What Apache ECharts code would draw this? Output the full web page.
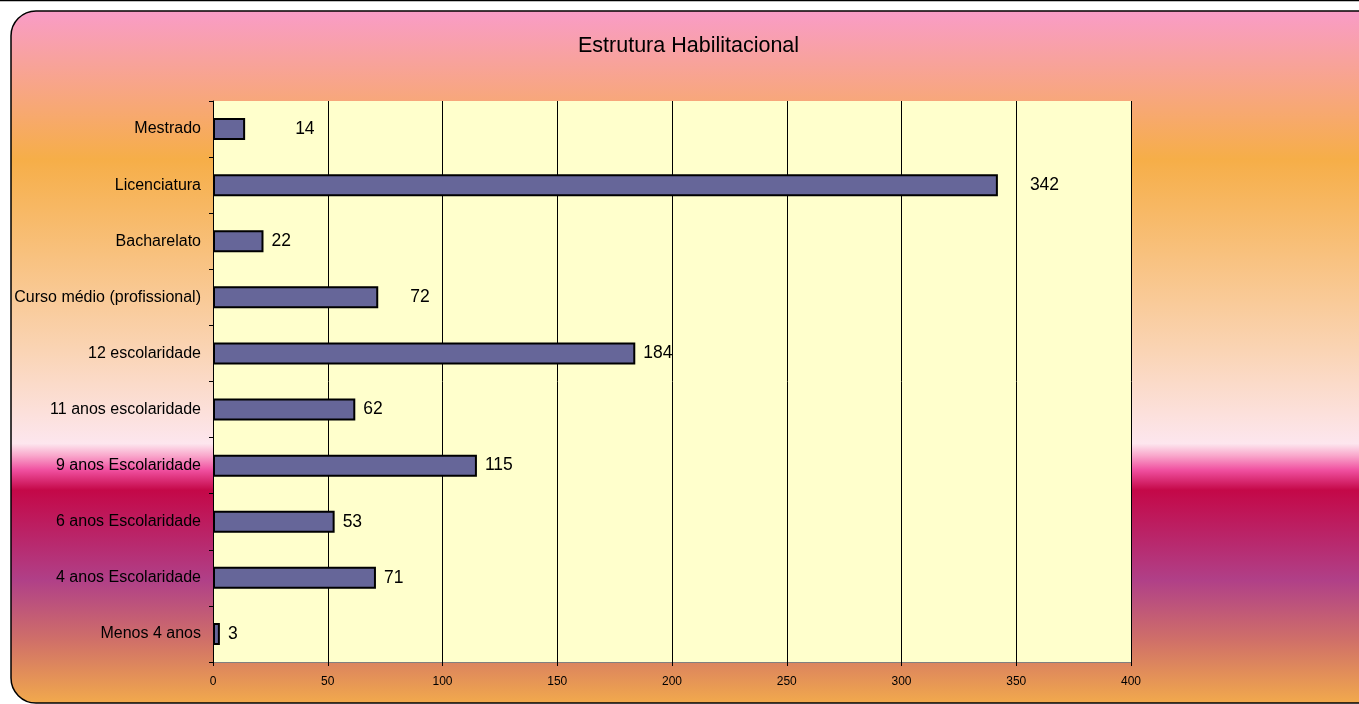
<!DOCTYPE html>
<html>
<head>
<meta charset="utf-8">
<script src="https://cdn.jsdelivr.net/npm/echarts@6/dist/echarts.min.js"></script>
<style>
html,body{margin:0;padding:0;background:#fff;}
#chart{width:1359px;height:704px;}
</style>
</head>
<body>
<div id="chart"></div>
<script>
const categories = ["Mestrado","Licenciatura","Bacharelato","Curso médio (profissional)","12 escolaridade","11 anos escolaridade","9 anos Escolaridade","6 anos Escolaridade","4 anos Escolaridade","Menos 4 anos"];
const values = [14,342,22,72,184,62,115,53,71,3];
const xTicks = {min:0, max:400, interval:50};
const title = "Estrutura Habilitacional";
// extra horizontal label offsets (layout only)
const labelExtra = [42,24,0,24,0,0,0,0,0,0];

const chart = echarts.init(document.getElementById('chart'), null, {renderer:'canvas'});
const FONT = '"Liberation Sans", Arial, sans-serif';
const option = {
  animation:false,
  backgroundColor:'#ffffff',
  graphic:[
    {type:'rect', z:-10, silent:true, shape:{x:11,y:11,width:1375,height:692,r:25},
     style:{stroke:'#000',lineWidth:1.5,
       fill:{type:'linear',x:0,y:0,x2:0,y2:1,colorStops:[
        {offset:0,color:'#F99CC8'},
        {offset:0.215,color:'#F6AE48'},
        {offset:0.49,color:'#FAD4B4'},
        {offset:0.625,color:'#FDE6EE'},
        {offset:0.642,color:'#F9A8CC'},
        {offset:0.663,color:'#F050A0'},
        {offset:0.692,color:'#C40848'},
        {offset:0.822,color:'#B04088'},
        {offset:0.909,color:'#D07068'},
        {offset:1,color:'#F2AA4C'}]}}},
    {type:'line', z:-9, silent:true, shape:{x1:0,y1:0.5,x2:1359,y2:0.5}, style:{stroke:'#000',lineWidth:1.5}}
  ],
  title:{text:title, left:573, top:30, textStyle:{fontFamily:FONT,fontSize:21.5,fontWeight:'normal',color:'#000'}},
  grid:{left:213, top:101, right:228, bottom:42, show:true, backgroundColor:'#FFFFCC', borderWidth:0},
  xAxis:{type:'value', min:xTicks.min, max:xTicks.max, interval:xTicks.interval,
    axisLine:{show:true, lineStyle:{color:'#808080',width:1}},
    axisTick:{show:true, length:4, lineStyle:{color:'#000'}},
    axisLabel:{fontFamily:FONT, fontSize:12, color:'#000', margin:14},
    splitLine:{show:true, lineStyle:{color:'#000',width:1}}},
  yAxis:{type:'category', data:categories, inverse:true,
    axisLine:{show:true, lineStyle:{color:'#000',width:1}},
    axisTick:{show:true, length:4, inside:false, lineStyle:{color:'#000'}},
    axisLabel:{fontFamily:FONT, fontSize:16, color:'#000', margin:12, padding:[3,0,0,0]}},
  series:[{type:'bar', barWidth:22,
    data: values.map((v,i)=>({value:v, label:{offset:[labelExtra[i],0]}})),
    itemStyle:{color:'#666699', borderColor:'#000', borderWidth:2},
    label:{show:true, position:'right', distance:8, fontFamily:FONT, fontSize:17.5, color:'#000'}}]
};
chart.setOption(option);
</script>
</body>
</html>
